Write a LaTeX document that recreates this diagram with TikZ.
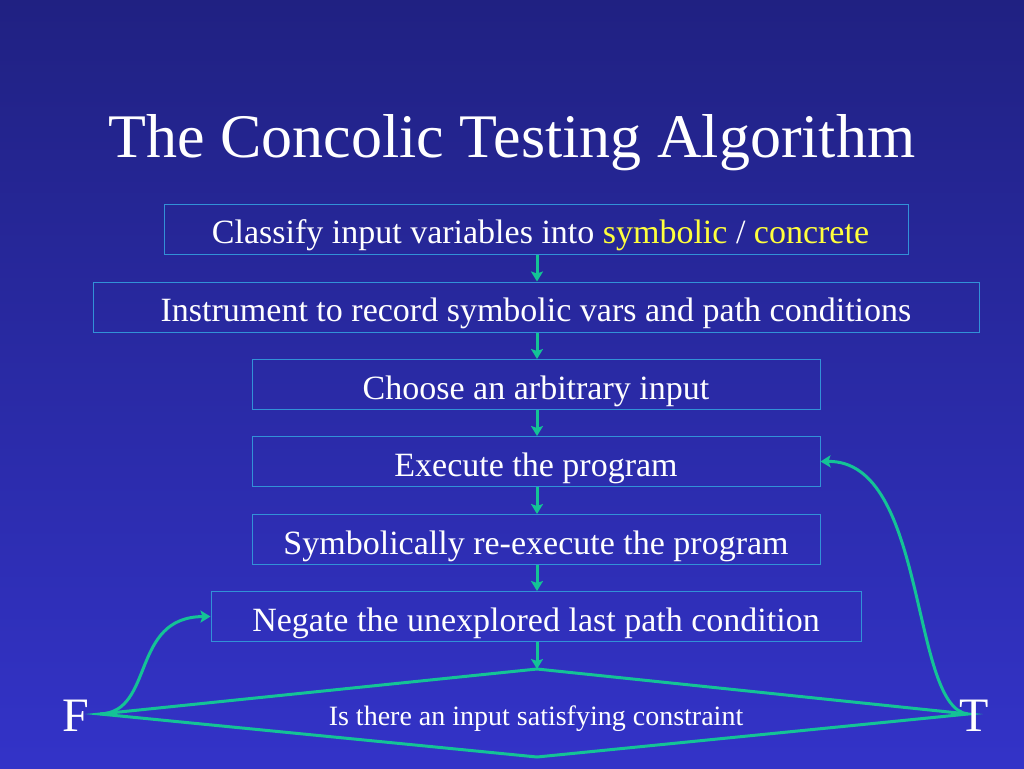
\documentclass[tikz,border=0pt]{standalone}
\usepackage{fontspec}
\setmainfont{Liberation Serif}
\usetikzlibrary{arrows.meta}
\definecolor{bgtop}{RGB}{32,33,130}
\definecolor{bgbot}{RGB}{51,51,200}
\definecolor{boxline}{RGB}{50,145,215}
\definecolor{teal}{RGB}{20,195,150}
\definecolor{yel}{RGB}{255,255,60}
\tikzset{
  box/.style={draw=boxline, line width=1pt, text=white, inner sep=0pt,
    font=\fontsize{34}{40}\selectfont, minimum height=50pt,
    text height=29pt, text depth=0pt},
  conn/.style={draw=teal, line width=3pt, -{Stealth[length=10pt,width=12pt,inset=2pt]}},
  edge/.style={draw=teal, line width=3pt, line join=miter},
  tf/.style={text=white, font=\fontsize{48}{52}\selectfont, inner sep=0pt, anchor=base}
}
\begin{document}
\begin{tikzpicture}[x=1pt,y=-1pt]
\shade[top color=bgtop, bottom color=bgbot] (0,0) rectangle (1024,768);
\useasboundingbox (0,0) rectangle (1024,768);
\node[text=white, font=\fontsize{62}{68}\selectfont, inner sep=0pt, anchor=base] (title) at (512,157) {The Concolic Testing Algorithm};
\node[box, minimum width=744pt] (b1) at (536,229) {\hspace{9pt}Classify input variables into \textcolor{yel}{symbolic} / \textcolor{yel}{concrete}};
\node[box, minimum width=886pt] (b2) at (536,307) {Instrument to record symbolic vars and path conditions};
\node[box, minimum width=568pt] (b3) at (536,384.5) {Choose an arbitrary input};
\node[box, minimum width=568pt] (b4) at (536,461.5) {Execute the program};
\node[box, minimum width=568pt] (b5) at (536,539.5) {Symbolically re-execute the program};
\node[box, minimum width=650pt] (b6) at (536,616.5) {Negate the unexplored last path condition};
\coordinate (dt) at (537,669);
\coordinate (dl) at (100,714);
\coordinate (dr) at (968,714);
\coordinate (db) at (537,757);
\draw[edge] (dt) -- (dr) -- (db) -- (dl) -- cycle;
\node[text=white, font=\fontsize{28}{32}\selectfont, inner sep=0pt, anchor=base] (q) at (536,725) {Is there an input satisfying constraint};
\node[tf] (F) at (76,731) {F};
\node[tf] (T) at (974,731) {T};
\draw[conn] (b1.south -| 537,0) -- (b2.north -| 537,0);
\draw[conn] (b2.south -| 537,0) -- (b3.north -| 537,0);
\draw[conn] (b3.south -| 537,0) -- (b4.north -| 537,0);
\draw[conn] (b4.south -| 537,0) -- (b5.north -| 537,0);
\draw[conn] (b5.south -| 537,0) -- (b6.north -| 537,0);
\draw[conn] (b6.south -| 537,0) -- (dt);
\draw[conn] (dl) .. controls (155,712) and (130,617) .. (b6.west);
\draw[conn] (dr) .. controls (910,708) and (928,460) .. (b4.east);
\end{tikzpicture}
\end{document}
